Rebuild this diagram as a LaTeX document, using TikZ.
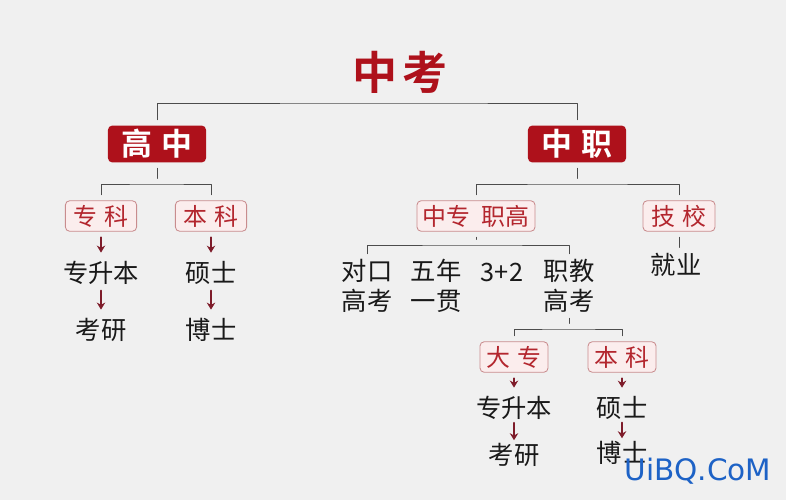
\documentclass[tikz,border=0pt]{standalone}
\usepackage{fontspec}
\setmainfont{Noto Sans CJK SC}[BoldFont={Noto Sans CJK SC Bold}]
\newfontfamily\wmfont{DejaVu Sans}
\usetikzlibrary{arrows.meta}
\definecolor{zred}{HTML}{AE111B}
\definecolor{lred}{HTML}{B3262E}
\definecolor{pink}{HTML}{FBEDED}
\definecolor{pline}{HTML}{C98C8E}
\definecolor{arrcol}{HTML}{7E1C2A}
\definecolor{bgcol}{HTML}{F0F0F0}
\definecolor{wmblue}{HTML}{1D62C6}
\newcommand\gap{\hspace{0.3em}}
\begin{document}
\begin{tikzpicture}[x=0.025cm, y=-0.025cm, line join=round, line cap=round, >={Stealth[length=5pt,width=6pt]},
  bigbox/.style={fill=zred, text=white, rounded corners=3pt, minimum width=2.45cm, minimum height=0.92cm, inner sep=0pt, font=\fontsize{22}{22}\selectfont\bfseries},
  smallbox/.style={draw=pline, fill=pink, text=lred, rounded corners=3pt, minimum height=0.72cm, inner sep=3pt, line width=0.6pt, font=\fontsize{17}{17}\selectfont},
  word/.style={inner sep=0pt, align=center, text=black!90, font=\fontsize{18}{21}\selectfont},
  tree/.style={draw=black!70, line width=0.6pt, shorten <=4pt, shorten >=4pt},
  arr/.style={->, draw=arrcol, fill=arrcol, line width=1.4pt, shorten <=4pt, shorten >=6pt},
  arrs/.style={arr, shorten <=2pt, shorten >=2pt}]
\fill[bgcol] (0,0) rectangle (786,500);
% top level
\node[text=zred, font=\fontsize{32}{32}\selectfont\bfseries] (zk) at (400,72) {中\hspace{0.12em}考};
\node[bigbox] (gz) at (157,144) {高\gap 中};
\node[bigbox] (zz) at (577,144) {中\gap 职};
\coordinate (b0) at (400,103);
\draw[tree] (gz.north) |- (b0) -| (zz.north);
% gao zhong
\node[smallbox, minimum width=1.78cm] (zk1) at (101,216) {专\gap 科};
\node[smallbox, minimum width=1.78cm] (bk1) at (211,216) {本\gap 科};
\coordinate (b1) at (157,184);
\draw[tree] (gz.south) -- (b1);
\draw[tree] (zk1.north) |- (b1) -| (bk1.north);
\node[word] (zsb1) at (101,273) {专升本};
\node[word] (ky1) at (101,330) {考研};
\node[word] (ss1) at (211,273) {硕士};
\node[word] (bs1) at (211,330) {博士};
\draw[arr] (zk1) -- (zsb1);
\draw[arr] (zsb1) -- (ky1);
\draw[arr] (bk1) -- (ss1);
\draw[arr] (ss1) -- (bs1);
% zhong zhi
\node[smallbox, minimum width=2.95cm] (zzzg) at (476,216) {中专\hspace{0.45em}职高};
\node[smallbox, minimum width=1.8cm] (jx) at (679,216) {技\gap 校};
\coordinate (b2) at (577,184);
\draw[tree] (zz.south) -- (b2);
\draw[tree] (zzzg.north) |- (b2) -| (jx.north);
\node[word] (dkgk) at (367,286) {对口\\高考};
\node[word] (wngg) at (436,286) {五年\\一贯};
\node[word] (sje) at (502,272) {3+2};
\node[word] (zjgk) at (569,286) {职教\\高考};
\node[word] (jy) at (676,265) {就业};
\coordinate (b3) at (476,245);
\draw[tree] (zzzg.south) -- (b3);
\draw[tree] (dkgk.north) |- (b3) -| (zjgk.north);
\draw[tree] (jx.south) -- (jx.south |- jy.north);
% zhi jiao gao kao
\node[smallbox, minimum width=1.7cm] (dz) at (514,357) {大\gap 专};
\node[smallbox, minimum width=1.7cm] (bk2) at (622,357) {本\gap 科};
\coordinate (b4) at (569,329);
\draw[tree] (zjgk.south) -- (b4);
\draw[tree] (dz.north) |- (b4) -| (bk2.north);
\node[word] (zsb2) at (514,408) {专升本};
\node[word] (ky2) at (514,455) {考研};
\node[word] (ss2) at (622,408) {硕士};
\node[word] (bs2) at (622,453) {博士};
\draw[arr] (dz) -- (zsb2);
\draw[arrs] (zsb2) -- (ky2);
\draw[arr] (bk2) -- (ss2);
\draw[arrs] (ss2) -- (bs2);
\node[text=wmblue, font=\wmfont\fontsize{21}{21}\selectfont] (wm) at (698,471) {UiBQ.CoM};
\end{tikzpicture}
\end{document}
